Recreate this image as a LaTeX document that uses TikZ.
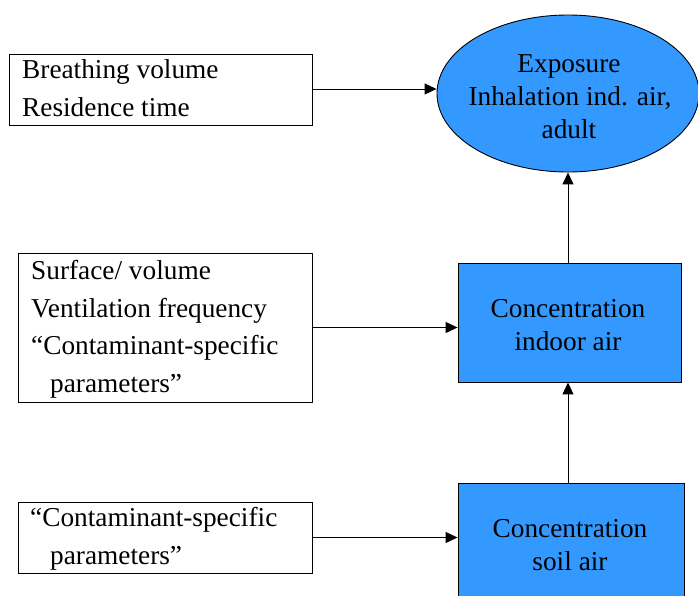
\documentclass[tikz,border=0pt]{standalone}
\usepackage{fontspec}
\setmainfont{Liberation Serif}
\usetikzlibrary{arrows.meta,shapes.geometric}
\definecolor{boxblue}{RGB}{51,153,255}
\begin{document}
\begin{tikzpicture}[x=1pt,y=-1pt,
  txt/.style={inner sep=0pt,font=\fontsize{27.3}{37.6}\selectfont},
  ctxt/.style={inner sep=0pt,align=center,font=\fontsize{27.3}{33}\selectfont},
  whitebox/.style={draw=black,line width=0.9pt,fill=white,inner sep=0pt},
  bluebox/.style={draw=black,line width=0.9pt,fill=boxblue,inner sep=0pt},
  conn/.style={line width=1pt,-{Triangle[length=12pt,width=11pt]}}]
\useasboundingbox (0,0) rectangle (698,595);
\clip (0,0) rectangle (698,595);
% white input boxes
\node[whitebox,minimum width=303,minimum height=71] (b1) at (160.5,89.5) {};
\node[whitebox,minimum width=294,minimum height=149] (b2) at (165,327.5) {};
\node[whitebox,minimum width=294,minimum height=71] (b3) at (165,537.5) {};
% blue nodes
\node[ellipse,bluebox,minimum width=262,minimum height=157] (expo) at (568,93.5) {};
\node[bluebox,minimum width=223,minimum height=119] (ind) at (569.5,322.5) {};
\node[bluebox,minimum width=226,minimum height=140] (soil) at (571,553) {};
% texts
\node[txt,anchor=base west] (t11) at (22,78) {Breathing volume};
\node[txt,anchor=base west] (t12) at (22,116) {Residence time};
\node[txt,anchor=base west] (t21) at (31,279) {Surface/ volume};
\node[txt,anchor=base west] (t22) at (31,317) {Ventilation frequency};
\node[txt,anchor=base west] (t23) at (31,354) {“Contaminant-specific};
\node[txt,anchor=base west] (t24) at (50,392) {parameters”};
\node[txt,anchor=base west] (t31) at (30,526) {“Contaminant-specific};
\node[txt,anchor=base west] (t32) at (50,564) {parameters”};
\node[ctxt,anchor=base] (te1) at (569,72) {Exposure};
\node[ctxt,anchor=base] (te2) at (570,105) {Inhalation ind. air,};
\node[ctxt,anchor=base] (te3) at (569,138) {adult};
\node[ctxt,anchor=base] (ti1) at (568,317) {Concentration};
\node[ctxt,anchor=base] (ti2) at (568,350) {indoor air};
\node[ctxt,anchor=base] (ts1) at (570,537) {Concentration};
\node[ctxt,anchor=base] (ts2) at (570,570) {soil air};
% connectors
\draw[conn] (b1.east |- 0,89) -- (expo.west |- 0,89);
\draw[conn] (b2.east) -- (b2.east -| ind.west);
\draw[conn] (b3.east) -- (b3.east -| soil.west);
\draw[conn] (ind.north -| 568,0) -- (expo.south -| 568,0);
\draw[conn] (soil.north -| 568,0) -- (ind.south -| 568,0);
\end{tikzpicture}
\end{document}
